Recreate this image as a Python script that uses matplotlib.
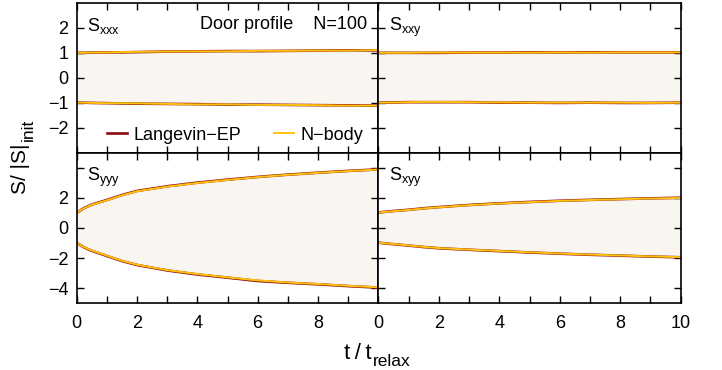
import matplotlib
matplotlib.use('Agg')
import matplotlib.pyplot as plt
from matplotlib.ticker import MultipleLocator

plt.rcParams['font.family'] = ['Liberation Sans', 'DejaVu Sans']
plt.rcParams['mathtext.default'] = 'regular'

# time grid (t / t_relax)
t = [0, 0.25, 0.5, 1, 1.5, 2, 3, 4, 5, 6, 7, 8, 9, 10]

# S_xxx
xxx_up_lang = [1.00, 1.00, 1.01, 1.02, 1.02, 1.03, 1.05, 1.06, 1.07, 1.07, 1.08, 1.09, 1.10, 1.10]
xxx_lo_lang = [-1.00, -1.00, -1.01, -1.02, -1.03, -1.04, -1.05, -1.06, -1.08, -1.08, -1.09, -1.10, -1.11, -1.12]
xxx_up_nb = [1.00, 1.00, 1.01, 1.02, 1.03, 1.04, 1.05, 1.06, 1.06, 1.08, 1.08, 1.09, 1.09, 1.11]
xxx_lo_nb = [-1.00, -1.00, -1.01, -1.02, -1.02, -1.03, -1.05, -1.07, -1.07, -1.09, -1.09, -1.10, -1.12, -1.12]

# S_xxy
xxy_up_lang = [1.00, 1.00, 1.00, 1.00, 1.00, 1.00, 1.01, 1.01, 1.02, 1.02, 1.02, 1.02, 1.02, 1.02]
xxy_lo_lang = [-1.00, -1.00, -0.99, -0.98, -0.98, -0.98, -0.98, -1.00, -1.00, -1.01, -1.00, -1.01, -1.01, -1.00]
xxy_up_nb = [1.00, 1.00, 1.00, 1.00, 1.01, 1.01, 1.01, 1.01, 1.01, 1.02, 1.01, 1.02, 1.02, 1.02]
xxy_lo_nb = [-1.00, -1.00, -0.99, -0.98, -0.97, -0.97, -0.98, -0.99, -1.00, -1.00, -1.00, -1.00, -1.01, -1.00]

# S_yyy
yyy_up_lang = [1.00, 1.32, 1.55, 1.85, 2.18, 2.45, 2.76, 3.00, 3.20, 3.38, 3.53, 3.66, 3.78, 3.88]
yyy_lo_lang = [-1.00, -1.30, -1.52, -1.86, -2.20, -2.46, -2.82, -3.09, -3.30, -3.52, -3.64, -3.74, -3.86, -3.96]
yyy_up_nb = [1.00, 1.31, 1.54, 1.83, 2.16, 2.43, 2.74, 2.98, 3.18, 3.37, 3.52, 3.65, 3.77, 3.87]
yyy_lo_nb = [-1.00, -1.29, -1.50, -1.84, -2.18, -2.44, -2.80, -3.06, -3.28, -3.48, -3.62, -3.72, -3.84, -3.94]

# S_xyy
xyy_up_lang = [1.02, 1.07, 1.12, 1.20, 1.30, 1.38, 1.52, 1.63, 1.72, 1.80, 1.86, 1.91, 1.96, 2.00]
xyy_lo_lang = [-0.98, -1.03, -1.08, -1.17, -1.27, -1.35, -1.45, -1.54, -1.63, -1.71, -1.78, -1.84, -1.90, -1.95]
xyy_up_nb = [1.02, 1.06, 1.11, 1.19, 1.29, 1.37, 1.51, 1.62, 1.71, 1.79, 1.85, 1.90, 1.95, 1.99]
xyy_lo_nb = [-0.98, -1.02, -1.07, -1.16, -1.26, -1.34, -1.44, -1.53, -1.62, -1.70, -1.77, -1.83, -1.89, -1.94]

c_lang = '#8c0a0f'
c_nb = '#ffc20e'
c_fill = '#f9f6f1'

fig = plt.figure(figsize=(7.22, 3.70), dpi=100)
W, H = 722.0, 370.0
x0, xm, x1 = 76.7, 378.3, 680.7
y0, ym, y1 = 3.0, 152.5, 303.3

def mk(xa, xb, ya, yb):
    return fig.add_axes([xa / W, 1 - yb / H, (xb - xa) / W, (yb - ya) / H])

ax_tl = mk(x0, xm, y0, ym)
ax_tr = mk(xm, x1, y0, ym)
ax_bl = mk(x0, xm, ym, y1)
ax_br = mk(xm, x1, ym, y1)

panels = [
    (ax_tl, xxx_up_lang, xxx_lo_lang, xxx_up_nb, xxx_lo_nb, r'$S_{xxx}$'),
    (ax_tr, xxy_up_lang, xxy_lo_lang, xxy_up_nb, xxy_lo_nb, r'$S_{xxy}$'),
    (ax_bl, yyy_up_lang, yyy_lo_lang, yyy_up_nb, yyy_lo_nb, r'$S_{yyy}$'),
    (ax_br, xyy_up_lang, xyy_lo_lang, xyy_up_nb, xyy_lo_nb, r'$S_{xyy}$'),
]

for ax, ul, ll, un, ln, lab in panels:
    ax.fill_between(t, ll, ul, color=c_fill, lw=0)
    ax.plot(t, ul, color=c_lang, lw=1.9, label='Langevin\u2212EP')
    ax.plot(t, ll, color=c_lang, lw=1.9)
    ax.plot(t, un, color=c_nb, lw=1.4, label='N\u2212body')
    ax.plot(t, ln, color=c_nb, lw=1.4)
    ax.set_xlim(0, 10)
    ax.xaxis.set_major_locator(MultipleLocator(2))
    ax.xaxis.set_minor_locator(MultipleLocator(1))
    ax.tick_params(which='both', direction='in', top=True, right=True,
                   labelsize=13, width=1.0, length=5)
    ax.tick_params(axis='x', pad=8.5)
    ax.tick_params(axis='y', pad=6)
    for s in ax.spines.values():
        s.set_linewidth(1.2)
    ax.text(0.035, 0.915, lab, transform=ax.transAxes, fontsize=13,
            ha='left', va='top')

for ax in (ax_tl, ax_tr):
    ax.set_ylim(-3, 3)
    ax.set_yticks([-2, -1, 0, 1, 2])
    ax.set_xticklabels([])
for ax in (ax_bl, ax_br):
    ax.set_ylim(-5, 5)
    ax.set_yticks([-4, -2, 0, 2, 4])

ax_tl.set_yticklabels(['\u22122', '\u22121', '0', '1', '2'])
ax_bl.set_yticklabels(['\u22124', '\u22122', '0', '2', ''])
ax_tr.set_yticklabels([])
ax_br.set_yticklabels([])
ax_bl.set_xticks([0, 2, 4, 6, 8, 10])
ax_bl.set_xticklabels(['0', '2', '4', '6', '8', ''])
ax_br.set_xticks([0, 2, 4, 6, 8, 10])
ax_br.set_xticklabels(['0', '2', '4', '6', '8', '10'])

ax_tl.text(0.9625, 0.915, 'Door profile    N=100', transform=ax_tl.transAxes,
           fontsize=13, ha='right', va='top')
ax_tl.legend(loc='lower left', bbox_to_anchor=((107 - x0) / (xm - x0), 0.06),
             ncol=2, frameon=False, borderpad=0, borderaxespad=0,
             fontsize=13, handlelength=1.1, handletextpad=0.35, columnspacing=1.85)

# y label: S/ |S| with subscript "init"
fig.text(26 / W, 1 - 143 / H, 'S/ |S|', rotation=90, rotation_mode='anchor',
         fontsize=15, ha='right', va='baseline')
fig.text(33 / W, 1 - 141 / H, 'init', rotation=90, rotation_mode='anchor',
         fontsize=12.5, ha='left', va='baseline')

# x label: t / t with subscript "relax"
fig.text(372 / W, 1 - 359 / H, 't\u2009/\u2009t', fontsize=16,
         ha='right', va='baseline')
fig.text(373 / W, 1 - 365.5 / H, 'relax', fontsize=12.5,
         ha='left', va='baseline')

fig.savefig('out.png', dpi=100)
